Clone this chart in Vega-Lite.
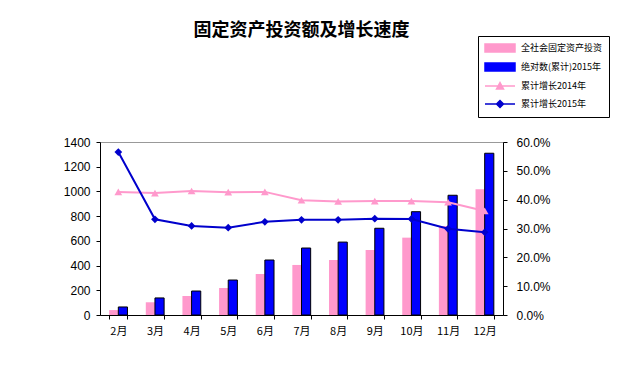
{
  "$schema": "https://vega.github.io/schema/vega-lite/v6.json",
  "width": 403,
  "height": 173,
  "autosize": {"type": "none"},
  "padding": {"left": 100, "top": 142, "right": 130, "bottom": 60},
  "background": "white",
  "config": {
    "view": {"stroke": "#999999"},
    "font": "Liberation Sans",
    "axis": {"grid": false, "domainColor": "black", "tickColor": "black", "labelColor": "black", "labelFontSize": 12, "labelFont": "Liberation Sans", "tickSize": 4, "title": null},
    "legend": {
      "orient": "none", "legendX": 378, "legendY": -106, "title": null,
      "symbolSize": 100, "labelFont": "Noto Sans CJK SC", "labelFontSize": 9, "labelColor": "black",
      "strokeColor": "black", "fillColor": "white", "padding": 6, "rowPadding": 5, "labelOffset": 25
    }
  },
  "title": {"text": "固定资产投资额及增长速度", "font": "Noto Sans CJK SC", "fontSize": 18, "fontWeight": "bold", "color": "black", "offset": -4, "anchor": "middle"},
  "data": {"values": [
    {"month": "2月", "inv": 40, "abs": 65, "g14": 0.427, "g15": 0.565},
    {"month": "3月", "inv": 103, "abs": 138, "g14": 0.423, "g15": 0.332},
    {"month": "4月", "inv": 154, "abs": 194, "g14": 0.430, "g15": 0.309},
    {"month": "5月", "inv": 218, "abs": 283, "g14": 0.426, "g15": 0.303},
    {"month": "6月", "inv": 332, "abs": 445, "g14": 0.427, "g15": 0.323},
    {"month": "7月", "inv": 405, "abs": 542, "g14": 0.398, "g15": 0.330},
    {"month": "8月", "inv": 445, "abs": 590, "g14": 0.394, "g15": 0.330},
    {"month": "9月", "inv": 526, "abs": 702, "g14": 0.395, "g15": 0.334},
    {"month": "10月", "inv": 626, "abs": 836, "g14": 0.395, "g15": 0.333},
    {"month": "11月", "inv": 720, "abs": 969, "g14": 0.391, "g15": 0.299},
    {"month": "12月", "inv": 1017, "abs": 1309, "g14": 0.361, "g15": 0.287}
  ]},
  "encoding": {
    "x": {"field": "month", "type": "nominal", "sort": null,
      "scale": {"paddingInner": 0.5, "paddingOuter": 0.25},
      "axis": {"labelAngle": 0, "tickBand": "extent", "labelFont": "Noto Sans CJK SC", "labelFontSize": 11, "labelPadding": 6}}
  },
  "layer": [
    {
      "transform": [
        {"calculate": "datum.inv", "as": "全社会固定资产投资"},
        {"calculate": "datum.abs", "as": "绝对数(累计)2015年"},
        {"fold": ["全社会固定资产投资", "绝对数(累计)2015年"], "as": ["key", "value"]}
      ],
      "mark": {"type": "bar", "strokeWidth": 1},
      "encoding": {
        "xOffset": {"field": "key", "type": "nominal", "sort": ["全社会固定资产投资", "绝对数(累计)2015年"]},
        "y": {"field": "value", "type": "quantitative", "scale": {"domain": [0, 1400]},
          "axis": {"values": [0, 200, 400, 600, 800, 1000, 1200, 1400], "format": "d", "orient": "left", "labelPadding": 6}},
        "color": {"field": "key", "type": "nominal",
          "scale": {"domain": ["全社会固定资产投资", "绝对数(累计)2015年", "累计增长2014年", "累计增长2015年"], "range": ["#FF99CC", "#0000FF", "#FF99CC", "#0000CC"]},
          "legend": {
            "encode": {"symbols": {"update": {
              "shape": {"signal": "indexof(['全社会固定资产投资','绝对数(累计)2015年'], datum.value) >= 0 ? 'M-1,-0.8H5V0.8H-1Z' : (datum.value === '累计增长2014年' ? 'M-1,0H5M1.3,0.6L2,-0.7L2.7,0.6Z' : 'M-1,0H5M1.3,0L2,-0.7L2.7,0L2,0.7Z')"},
              "stroke": {"signal": "indexof(['全社会固定资产投资','绝对数(累计)2015年'], datum.value) >= 0 ? 'black' : scale('color', datum.value)"},
              "strokeWidth": {"value": 1.5},
              "opacity": {"value": 1}
            }}}
          }},
        "stroke": {"condition": {"test": "datum.key === '绝对数(累计)2015年'", "value": "black"}, "value": null}
      }
    },
    {
      "transform": [
        {"calculate": "datum.g14", "as": "累计增长2014年"},
        {"calculate": "datum.g15", "as": "累计增长2015年"},
        {"fold": ["累计增长2014年", "累计增长2015年"], "as": ["key", "rate"]}
      ],
      "encoding": {
        "y": {"field": "rate", "type": "quantitative", "scale": {"domain": [0, 0.6]},
          "axis": {"values": [0, 0.1, 0.2, 0.3, 0.4, 0.5, 0.6], "format": ".1%", "orient": "right", "labelPadding": 9}},
        "color": {"field": "key", "type": "nominal",
          "legend": {
            "encode": {"symbols": {"update": {
              "shape": {"signal": "indexof(['全社会固定资产投资','绝对数(累计)2015年'], datum.value) >= 0 ? 'M-1,-0.8H5V0.8H-1Z' : (datum.value === '累计增长2014年' ? 'M-1,0H5M1.3,0.6L2,-0.7L2.7,0.6Z' : 'M-1,0H5M1.3,0L2,-0.7L2.7,0L2,0.7Z')"},
              "stroke": {"signal": "indexof(['全社会固定资产投资','绝对数(累计)2015年'], datum.value) >= 0 ? 'black' : scale('color', datum.value)"},
              "strokeWidth": {"value": 1.5},
              "opacity": {"value": 1}
            }}}
          }}
      },
      "layer": [
        {"mark": {"type": "line", "strokeWidth": 2}},
        {"mark": {"type": "point", "filled": true, "opacity": 1, "size": 60},
          "encoding": {"shape": {"field": "key", "type": "nominal", "scale": {"domain": ["累计增长2014年", "累计增长2015年"], "range": ["triangle-up", "diamond"]}, "legend": null}}}
      ]
    }
  ],
  "resolve": {"scale": {"y": "independent"}}
}
